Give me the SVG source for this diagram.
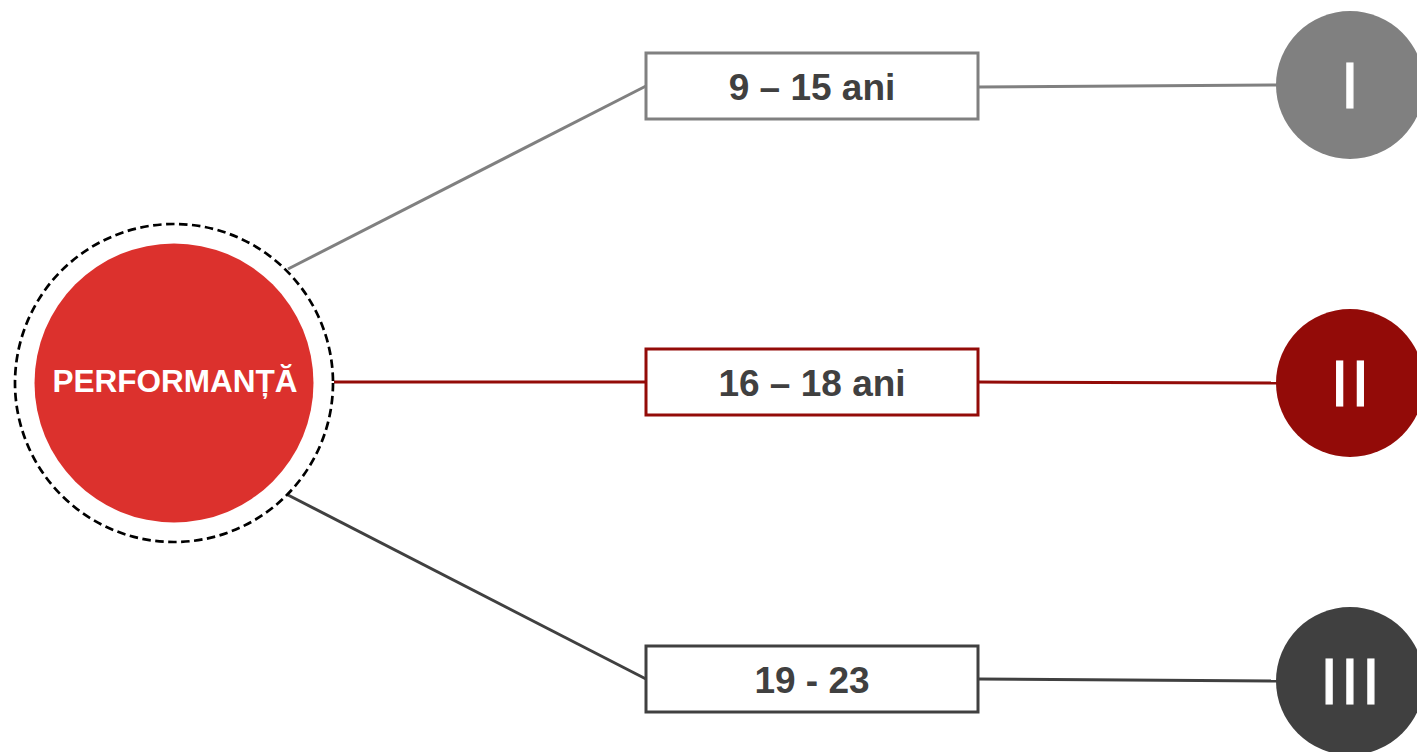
<svg xmlns="http://www.w3.org/2000/svg" width="1417" height="752" viewBox="0 0 1417 752">
<style>
.lbl{font-family:"Liberation Sans",Arial,sans-serif;font-weight:bold;font-size:37px;fill:#404040;text-anchor:middle}
.box{fill:#fff;stroke-width:3}
.num{font-family:"Liberation Sans",Arial,sans-serif;font-size:64px;fill:#fff;stroke:#fff;stroke-width:1.2;text-anchor:middle;letter-spacing:3px}
.ln{stroke-width:3;fill:none}
</style>
<rect width="1417" height="752" fill="#fff"/>
<g id="connectors">
<line class="ln" x1="288" y1="269" x2="646" y2="86" stroke="#808080"/>
<line class="ln" x1="978" y1="87" x2="1277" y2="85" stroke="#808080"/>
<line class="ln" x1="334" y1="382" x2="646" y2="382" stroke="#930B08"/>
<line class="ln" x1="978" y1="382" x2="1277" y2="383" stroke="#930B08"/>
<line class="ln" x1="288" y1="495" x2="646" y2="679" stroke="#404040"/>
<line class="ln" x1="978" y1="679" x2="1277" y2="681" stroke="#404040"/>
</g>
<g id="performanta">
<circle cx="174" cy="383" r="159" fill="#fff" stroke="#000" stroke-width="2.7" stroke-dasharray="8.5 4.5"/>
<circle cx="174" cy="383" r="139.5" fill="#DC312D"/>
<text x="175" y="392" font-family="Liberation Sans,Arial,sans-serif" font-weight="bold" font-size="31.5" fill="#fff" text-anchor="middle">PERFORMANȚĂ</text>
</g>
<g id="box1">
<rect class="box" x="646" y="53" width="332" height="66" stroke="#808080"/>
<text class="lbl" x="812" y="100">9 – 15 ani</text>
</g>
<g id="box2">
<rect class="box" x="646" y="349" width="332" height="66" stroke="#930B08"/>
<text class="lbl" x="812" y="396">16 – 18 ani</text>
</g>
<g id="box3">
<rect class="box" x="646" y="646" width="332" height="66" stroke="#404040"/>
<text class="lbl" x="812" y="693">19 - 23</text>
</g>
<g id="level1">
<circle cx="1350" cy="85" r="74" fill="#808080"/>
<text class="num" x="1351.5" y="108">I</text>
</g>
<g id="level2">
<circle cx="1350" cy="383" r="74" fill="#930B08"/>
<text class="num" x="1351.5" y="406">II</text>
</g>
<g id="level3">
<circle cx="1350" cy="681" r="74" fill="#404040"/>
<text class="num" x="1351.5" y="704">III</text>
</g>
</svg>
